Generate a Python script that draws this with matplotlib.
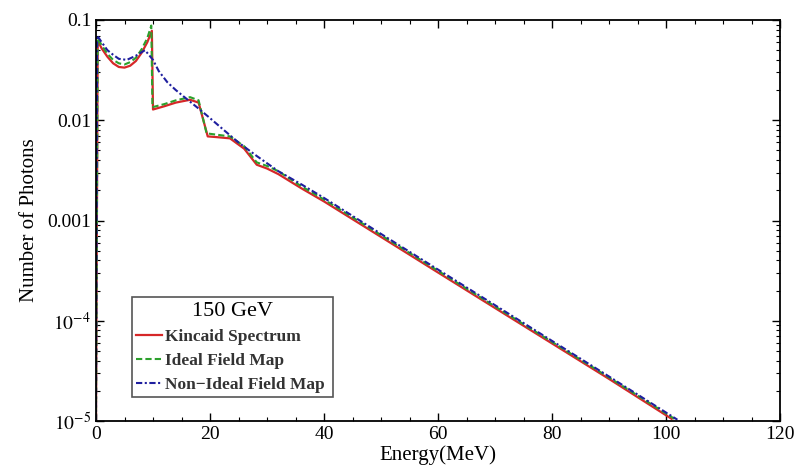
import matplotlib
matplotlib.use("Agg")
import matplotlib.pyplot as plt
from matplotlib.ticker import FixedLocator, FixedFormatter, MultipleLocator, LogLocator, NullFormatter

# Data
energy_kincaid = [0.0, 0.3, 1.0, 2.0, 3.0, 4.0, 5.0, 6.0, 7.0, 8.0, 9.0, 9.8, 10.0, 12.0, 14.0, 16.5, 18.0, 19.6, 21.0, 23.5, 26.0, 28.2, 30.0, 32.0, 36.0, 40.0, 50.0, 60.0, 70.0, 80.0, 90.0, 101.0]
photons_kincaid = [1e-5, 0.062, 0.052, 0.043, 0.037, 0.034, 0.0335, 0.035, 0.039, 0.047, 0.060, 0.078, 0.0128, 0.0138, 0.0150, 0.0160, 0.0150, 0.0069, 0.0068, 0.0066, 0.0052, 0.0036, 0.0033, 0.0029, 0.0021, 0.00155, 6.86e-4, 3.03e-4, 1.34e-4, 5.94e-5, 2.63e-5, 1.05e-5]

energy_ideal = [0.0, 0.3, 1.0, 2.0, 3.0, 4.0, 5.0, 6.0, 7.0, 8.0, 9.0, 9.7, 9.9, 12.0, 14.0, 16.5, 18.0, 19.4, 21.0, 23.5, 26.0, 28.2, 30.0, 32.0, 36.0, 40.0, 50.0, 60.0, 70.0, 80.0, 90.0, 101.5]
photons_ideal = [1e-5, 0.066, 0.056, 0.046, 0.040, 0.037, 0.036, 0.038, 0.042, 0.051, 0.066, 0.088, 0.0135, 0.0145, 0.0158, 0.0170, 0.0158, 0.0074, 0.0072, 0.0069, 0.0055, 0.0038, 0.0035, 0.0031, 0.0022, 0.00162, 7.15e-4, 3.15e-4, 1.39e-4, 6.15e-5, 2.72e-5, 1.05e-5]

energy_nonideal = [0.0, 0.2, 1.0, 2.0, 3.0, 4.0, 5.4, 7.0, 8.6, 10.0, 11.0, 12.5, 14.0, 15.3, 18.2, 20.0, 22.3, 25.0, 28.2, 32.0, 36.0, 40.0, 50.0, 60.0, 70.0, 80.0, 90.0, 102.0]
photons_nonideal = [1e-5, 0.070, 0.060, 0.050, 0.045, 0.041, 0.040, 0.044, 0.050, 0.040, 0.031, 0.024, 0.020, 0.0174, 0.0128, 0.0105, 0.0081, 0.0060, 0.0044, 0.0031, 0.0023, 0.00168, 7.35e-4, 3.24e-4, 1.43e-4, 6.3e-5, 2.78e-5, 1.03e-5]

x_ticks = [0, 20, 40, 60, 80, 100, 120]
y_ticks = [1e-5, 1e-4, 1e-3, 1e-2, 1e-1]
y_tick_labels = [r"$10^{-5}$", r"$10^{-4}$", "0.001", "0.01", "0.1"]

plt.rcParams["font.family"] = ["Liberation Serif", "DejaVu Serif"]
plt.rcParams["mathtext.fontset"] = "stix"

fig = plt.figure(figsize=(7.98, 4.76), dpi=100)
ax = fig.add_axes([96/798, 55/476, 684/798, 401/476])

ax.plot(energy_kincaid, photons_kincaid, color="#d62728", lw=1.6, label="Kincaid Spectrum")
ax.plot(energy_ideal, photons_ideal, color="#2ca02c", lw=1.5, ls=(0, (3, 1.5)), label="Ideal Field Map")
ax.plot(energy_nonideal, photons_nonideal, color="#1f1f9f", lw=1.5, ls=(0, (3, 1.2, 1, 1.2)), label="Non\u2212Ideal Field Map")

ax.set_yscale("log")
ax.set_xlim(0, 120)
ax.set_ylim(1e-5, 0.1)

ax.xaxis.set_major_locator(FixedLocator(x_ticks))
ax.xaxis.set_minor_locator(MultipleLocator(5))
ax.yaxis.set_major_locator(FixedLocator(y_ticks))
ax.yaxis.set_major_formatter(FixedFormatter(y_tick_labels))
ax.yaxis.set_minor_locator(LogLocator(base=10, subs=range(2, 10)))
ax.yaxis.set_minor_formatter(NullFormatter())

ax.tick_params(which="both", direction="in", top=True, right=True, labelsize=14)
ax.tick_params(which="major", length=6, width=1)
ax.tick_params(which="minor", length=3, width=0.8)
for s in ax.spines.values():
    s.set_linewidth(1.3)

ax.set_xlabel("Energy(MeV)", fontsize=15, labelpad=2)
ax.set_ylabel("Number of Photons", fontsize=15, labelpad=6)

leg = ax.legend(title="150 GeV", loc="lower left", bbox_to_anchor=(0.0526, 0.06, 0.294, 0.2),
                mode="expand", borderaxespad=0, prop={"size": 12.5, "weight": "bold"},
                title_fontsize=16, handlelength=1.5, handletextpad=0.15, borderpad=0.25,
                labelspacing=0.45, fancybox=False, edgecolor="#555555", framealpha=1)
for t in leg.get_texts():
    t.set_color("#333333")
leg.get_frame().set_linewidth(1.2)

fig.savefig("out.png", dpi=100)
